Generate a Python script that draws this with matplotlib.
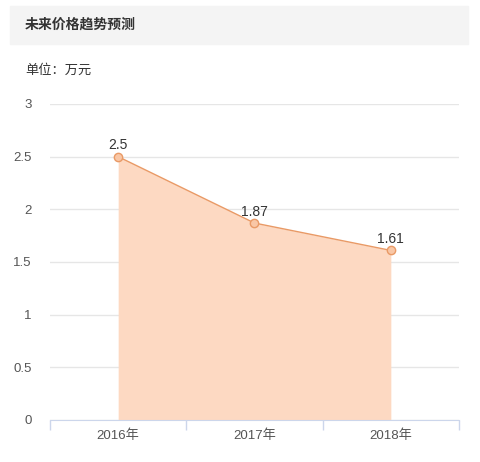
import matplotlib.pyplot as plt
from matplotlib.patches import Rectangle

plt.rcParams['font.family'] = ['Liberation Sans', 'Noto Sans CJK SC', 'DejaVu Sans']

years = ['2016年', '2017年', '2018年']
prices = [2.5, 1.87, 1.61]
price_labels = ['2.5', '1.87', '1.61']
yticks = [0, 0.5, 1, 1.5, 2, 2.5, 3]
ytick_labels = ['0', '0.5', '1', '1.5', '2', '2.5', '3']

W, H = 481, 462
fig = plt.figure(figsize=(W / 100, H / 100), dpi=100)

# header bar
fig.patches.append(Rectangle((10 / W, 1 - 44 / H), 458 / W, 38 / H,
                             transform=fig.transFigure, color='#f4f4f4', zorder=0))
fig.text(25 / W, 1 - 25 / H, '未来价格趋势预测', fontsize=10, fontweight='bold',
         color='#333333', va='center', family=['Noto Sans CJK SC', 'DejaVu Sans'])
fig.text(25 / W, 1 - 70 / H, '单位：万元', fontsize=9.5, color='#333333', va='center',
         family=['Noto Sans CJK SC', 'DejaVu Sans'])

ax = fig.add_axes([50 / W, 42 / H, 409 / W, 316 / H])
x = list(range(len(years)))
ax.fill_between(x, prices, 0, color='#fdd9c2', lw=0, zorder=1)
ax.plot(x, prices, color='#e99a66', lw=1, marker='o', ms=6,
        mfc='#f9c7a6', mec='#e99a66', mew=1, zorder=3)
for xi, v, lab in zip(x, prices, price_labels):
    ax.annotate(lab, (xi, v), xytext=(0, 3), textcoords='offset points',
                ha='center', va='bottom', fontsize=10, color='#333333', zorder=4)

ax.set_xlim(-0.5, 2.5)
ax.set_ylim(0, 3)
ax.set_yticks(yticks)
ax.set_yticklabels(ytick_labels)
ax.set_xticks(x)
ax.set_xticklabels(years)
ax.set_xticks([-0.5, 0.5, 1.5, 2.5], minor=True)
ax.grid(axis='y', color='#e6e6e6', lw=1, zorder=0)
ax.set_axisbelow(True)
for s in ['top', 'right', 'left']:
    ax.spines[s].set_visible(False)
ax.spines['bottom'].set_color('#ccd6eb')
ax.tick_params(axis='y', length=0, pad=13, labelsize=9.5, labelcolor='#555555')
ax.tick_params(axis='x', which='major', length=0, pad=7, labelsize=9.5, labelcolor='#555555')
ax.tick_params(axis='x', which='minor', length=7, color='#ccd6eb', width=1)
for lab in ax.get_yticklabels():
    lab.set_horizontalalignment('right')

fig.savefig('out.png', dpi=100)
